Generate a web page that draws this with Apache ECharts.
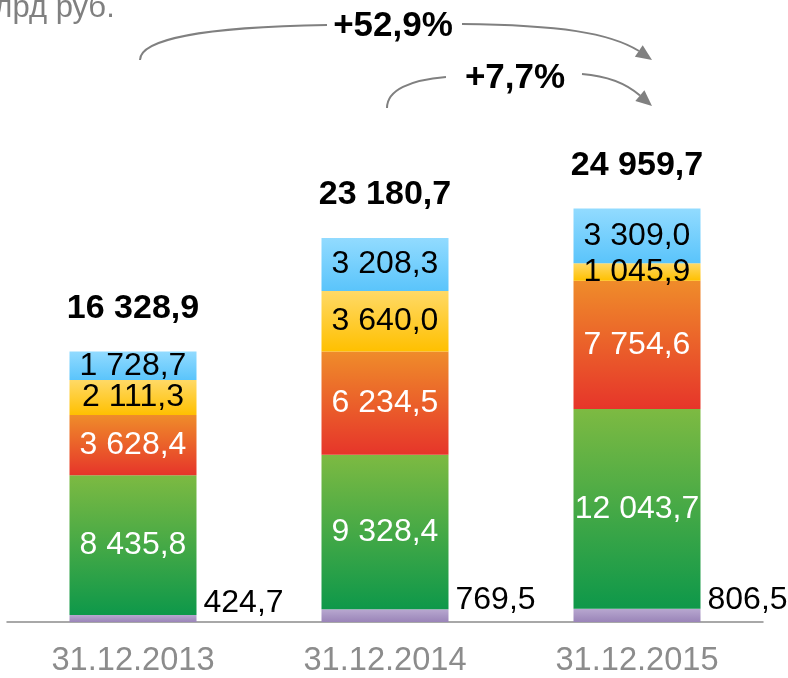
<!DOCTYPE html>
<html>
<head>
<meta charset="utf-8">
<script src="https://cdn.jsdelivr.net/npm/echarts@6/dist/echarts.min.js"></script>
<style>
html,body{margin:0;padding:0;background:#fff;}
#chart{width:788px;height:678px;}
</style>
</head>
<body>
<div id="chart"></div>
<script>
var categories = ['31.12.2013', '31.12.2014', '31.12.2015'];
var purpleValues = [424.7, 769.5, 806.5];
var greenValues = [8435.8, 9328.4, 12043.7];
var redValues = [3628.4, 6234.5, 7754.6];
var yellowValues = [2111.3, 3640.0, 1045.9];
var blueValues = [1728.7, 3208.3, 3309.0];
var totals = [16328.9, 23180.7, 24959.7];
var growthLabels = ['+52,9%', '+7,7%'];
var unitLabel = 'млрд руб.';

function fmt(v) {
  var s = v.toFixed(1).split('.');
  var intPart = s[0].replace(/\B(?=(\d{3})+(?!\d))/g, ' ');
  return intPart + ',' + s[1];
}
function grad(top, bottom) {
  return new echarts.graphic.LinearGradient(0, 0, 0, 1, [
    {offset: 0, color: top}, {offset: 1, color: bottom}
  ]);
}
var FONT = '"Liberation Sans", Arial, sans-serif';
function innerLabel(color) {
  return {
    show: true, position: 'inside', color: color, fontSize: 32,
    fontFamily: FONT, formatter: function (p) { return fmt(p.value); }
  };
}

var chart = echarts.init(document.getElementById('chart'));
var option = {
  animation: false,
  grid: {left: 7, right: 25, top: 125, bottom: 54},
  xAxis: {
    type: 'category', data: categories,
    axisLine: {show: true, lineStyle: {color: '#8c8c8c', width: 1.5}},
    axisTick: {show: false},
    axisLabel: {color: '#8c8c8c', fontSize: 32.6, fontFamily: FONT, margin: 23}
  },
  yAxis: {type: 'value', min: 0, max: 30000, show: false, splitLine: {show: false}},
  series: [
    {type: 'bar', stack: 's', barWidth: 127, data: purpleValues,
      itemStyle: {color: grad('#b8a8d0', '#9a84b8')},
      label: {show: true, position: 'right', distance: 7, offset: [0, -15], color: '#000',
        fontSize: 32, fontFamily: FONT, formatter: function (p) { return fmt(p.value); }}},
    {type: 'bar', stack: 's', data: greenValues,
      itemStyle: {color: grad('#7dba42', '#0e984a')}, label: innerLabel('#fff')},
    {type: 'bar', stack: 's', data: redValues,
      itemStyle: {color: grad('#ef8c2a', '#e6352a')}, label: innerLabel('#fff')},
    {type: 'bar', stack: 's', data: yellowValues,
      itemStyle: {color: grad('#ffd966', '#ffc000')}, label: innerLabel('#000')},
    {type: 'bar', stack: 's', data: blueValues,
      itemStyle: {color: grad('#92dbff', '#5ac4fb')}, label: innerLabel('#000')},
    {type: 'scatter', data: totals, symbolSize: 2, itemStyle: {color: 'rgba(0,0,0,0)', opacity: 1},
      label: {show: true, position: 'top', distance: 25, color: '#000', opacity: 1, fontSize: 34,
        fontWeight: 'bold', fontFamily: FONT, formatter: function (p) { return fmt(p.value); }},
      z: 10}
  ],
  graphic: [
    {type: 'text', x: -27, y: -7, style: {text: unitLabel, fill: '#808080', fontSize: 31, fontFamily: FONT,
      align: 'left', verticalAlign: 'top'}},
    {type: 'bezierCurve', shape: {x1: 140, y1: 60, cpx1: 140, cpy1: 40, cpx2: 200, cpy2: 27, x2: 327, y2: 25},
      style: {stroke: '#808080', lineWidth: 2, fill: null}},
    {type: 'bezierCurve', shape: {x1: 462, y1: 24, cpx1: 560, cpy1: 25, cpx2: 610, cpy2: 33, x2: 639, y2: 51},
      style: {stroke: '#808080', lineWidth: 2, fill: null}},
    {type: 'polygon', shape: {points: [[652, 60], [634.9, 56.8], [642.7, 45.2]]}, style: {fill: '#808080'}},
    {type: 'text', x: 393, y: 26, style: {text: growthLabels[0], fill: '#000', fontSize: 35, fontWeight: 'bold',
      fontFamily: FONT, align: 'center', verticalAlign: 'middle'}},
    {type: 'bezierCurve', shape: {x1: 387, y1: 108, cpx1: 387, cpy1: 90, cpx2: 410, cpy2: 80, x2: 446, y2: 77},
      style: {stroke: '#808080', lineWidth: 2, fill: null}},
    {type: 'bezierCurve', shape: {x1: 582, y1: 74, cpx1: 608, cpy1: 76, cpx2: 628, cpy2: 85, x2: 640, y2: 95.6},
      style: {stroke: '#808080', lineWidth: 2, fill: null}},
    {type: 'polygon', shape: {points: [[652, 106], [635.3, 100.9], [644.4, 90.3]]}, style: {fill: '#808080'}},
    {type: 'text', x: 515, y: 78, style: {text: growthLabels[1], fill: '#000', fontSize: 35, fontWeight: 'bold',
      fontFamily: FONT, align: 'center', verticalAlign: 'middle'}}
  ]
};
chart.setOption(option);
</script>
</body>
</html>
